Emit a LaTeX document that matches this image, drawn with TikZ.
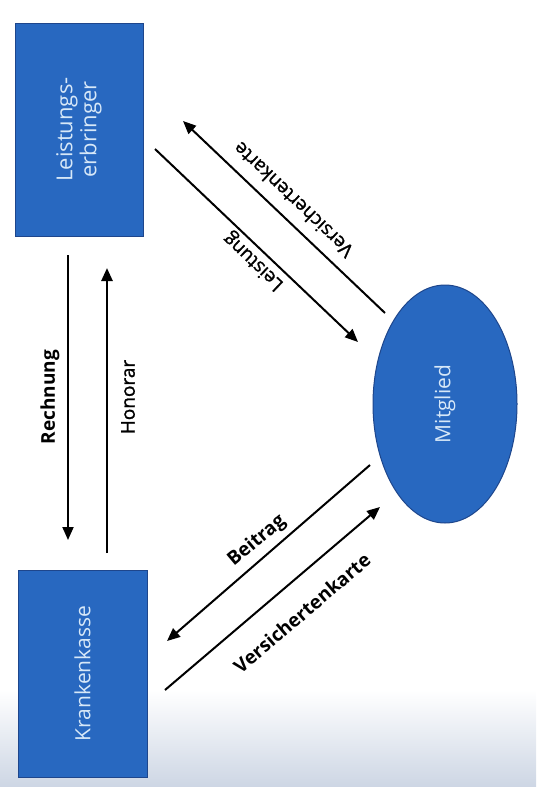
\documentclass[tikz,border=0pt]{standalone}
\usepackage{fontspec}
\setmainfont{Open Sans}
\newfontfamily\semib[FakeBold=1.2]{Open Sans}
\usetikzlibrary{arrows.meta,shapes.geometric}
\definecolor{boxblue}{RGB}{40,104,192}
\definecolor{boxedge}{RGB}{30,70,140}
\definecolor{boxtext}{RGB}{215,232,248}
\definecolor{bottomgrey}{RGB}{205,214,228}
\tikzset{
  box/.style={draw=boxedge, line width=1pt, fill=boxblue, text=boxtext, rotate=90, align=center, font=\fontsize{22}{24}\selectfont},
  oval/.style={ellipse, draw=boxedge, line width=1pt, fill=boxblue, text=boxtext, rotate=90, font=\fontsize{21}{23}\selectfont},
  flow/.style={line width=2pt, -{Triangle[length=13pt,width=11pt]}},
  lbl/.style={font=\fontsize{19}{21}\selectfont, inner sep=0pt},
}
\begin{document}
\begin{tikzpicture}[x=1pt,y=-1pt]
\useasboundingbox (0,0) rectangle (536,787);
\fill[white] (0,0) rectangle (536,690);
\shade[top color=white, bottom color=bottomgrey] (0,690) rectangle (536,787);
\node[box, minimum width=213pt, minimum height=128pt] (le) at (79,129.5) {Leistungs-\\erbringer};
\node[box, minimum width=207pt, minimum height=129pt, font=\fontsize{21}{23}\selectfont] (kk) at (82.5,673.5) {Krankenkasse};
\node[oval, minimum width=238pt, minimum height=144pt, inner sep=0pt] (mg) at (445,404) {Mitglied};
% endpoints
\coordinate (r1) at (68,255); \coordinate (r2) at (68,540);
\coordinate (h1) at (107,553); \coordinate (h2) at (107,268);
\coordinate (l1) at (155,149); \coordinate (l2) at (358,342);
\coordinate (v1) at (385,313); \coordinate (v2) at (183,121);
\coordinate (b1) at (370,465); \coordinate (b2) at (167,641);
\coordinate (w1) at (165,690); \coordinate (w2) at (380,507);
\draw[flow, line width=1.8pt] (r1) -- (r2);
\draw[flow, line width=2.6pt] (h1) -- (h2);
\draw[flow] (l1) -- (l2);
\draw[flow] (v1) -- (v2);
\draw[flow] (b1) -- (b2);
\draw[flow] (w1) -- (w2);
\node[lbl, rotate=90] (rl) at (50,397) {\bfseries Rechnung};
\node[lbl, rotate=90] (hl) at (128,397) {\semib Honorar};
\node[lbl, rotate=136.4] (ll) at (254,261) {\semib Leistung};
\node[lbl, rotate=136.4] (vl) at (293,200) {\semib Versichertenkarte};
\node[lbl, rotate=40] (bl) at (257,541) {\bfseries Beitrag};
\node[lbl, rotate=40.4] (wl) at (302,613) {\bfseries Versichertenkarte};
\end{tikzpicture}
\end{document}
